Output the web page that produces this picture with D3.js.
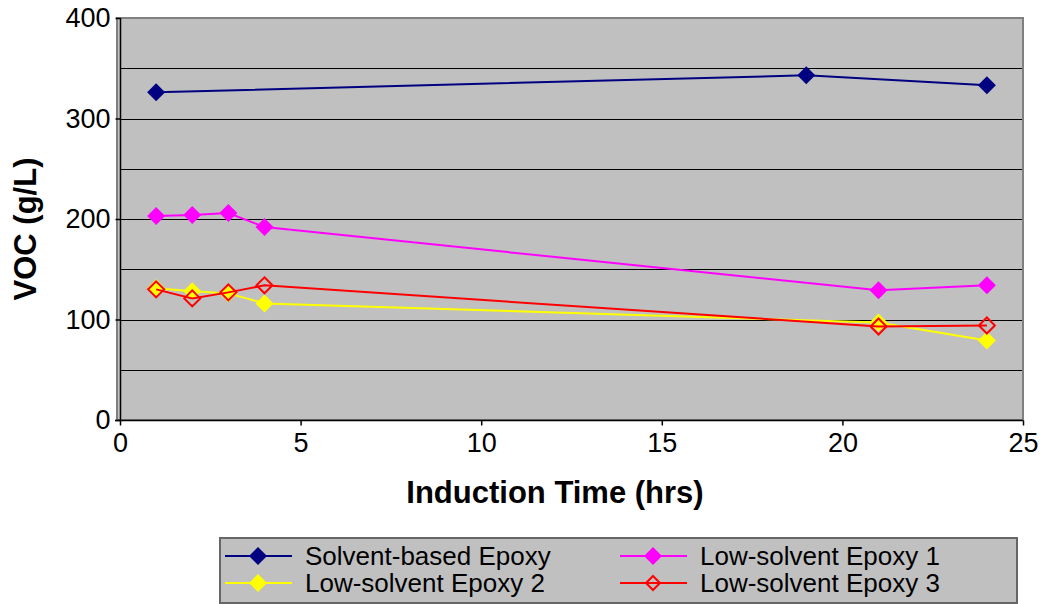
<!DOCTYPE html>
<html><head><meta charset="utf-8">
<script src="https://cdn.jsdelivr.net/npm/d3@7"></script>
<style>body{margin:0;background:#fff}svg{display:block}text{font-family:"Liberation Sans",Arial,sans-serif}</style>
</head><body><svg id="c" width="1043" height="604"></svg>
<script>
const seriesNames = ["Solvent-based Epoxy","Low-solvent Epoxy 1","Low-solvent Epoxy 2","Low-solvent Epoxy 3"];
const seriesColors = ["#000080","#ff00ff","#ffff00","#ff0000"];
const seriesHollow = [false,false,false,true];
const solventX = [1,19,24];
const solventY = [326,343,333];
const ls1X = [1,2,3,4,21,24];
const ls1Y = [203,204,206,192,129,134];
const ls2X = [1,2,3,4,21,24];
const ls2Y = [131,128,126,116,97,79];
const ls3X = [1,2,3,4,21,24];
const ls3Y = [130,121,127,134,93,94];
const xTicks = [0,5,10,15,20,25];
const yTicks = [0,100,200,300,400];
const yGrid = [50,100,150,200,250,300,350];

const seriesX = [solventX, ls1X, ls2X, ls3X];
const seriesY = [solventY, ls1Y, ls2Y, ls3Y];

const svg = d3.select("#c");
const L=120, R=1023, T=18, B=420;
const x = d3.scaleLinear().domain([0,25]).range([L,R]);
const y = d3.scaleLinear().domain([0,400]).range([B,T]);

svg.append("rect").attr("x",117).attr("y",T).attr("width",R-117).attr("height",B-T)
  .attr("fill","#c0c0c0").attr("stroke","#808080").attr("stroke-width",2);
svg.append("g").selectAll("line").data(yGrid).join("line")
  .attr("x1",L).attr("x2",R-1).attr("y1",d=>Math.round(y(d))+0.5).attr("y2",d=>Math.round(y(d))+0.5)
  .attr("stroke","#000").attr("stroke-width",1);

const yAxis = d3.axisLeft(y).tickValues(yTicks).tickSize(5).tickPadding(5);
const gy = svg.append("g").attr("transform",`translate(${L+0.5},0)`).call(yAxis);
const xAxis = d3.axisBottom(x).tickValues(xTicks).tickSize(5).tickPadding(7);
const gx = svg.append("g").attr("transform",`translate(0,${B+0.5})`).call(xAxis);
[gx,gy].forEach(g=>{
  g.attr("font-size",null).attr("font-family",null);
  g.select(".domain").attr("stroke","#000").attr("stroke-width",1.5);
  g.selectAll(".tick line").attr("stroke","#000").attr("stroke-width",1.5);
  g.selectAll("text").attr("fill","#000").style("font-size","27px");
});
gx.select(".domain").attr("d",`M${L-5},0H${R}`);
gy.select(".domain").attr("d",`M0,${T}V${B}`);

svg.append("text").attr("transform","translate(36,229) rotate(-90)").attr("text-anchor","middle")
  .style("font-size","31px").style("font-weight","bold").text("VOC (g/L)");
svg.append("text").attr("x",555).attr("y",503).attr("text-anchor","middle")
  .style("font-size","31px").style("font-weight","bold").text("Induction Time (hrs)");

function diamond(r){return `M0,${-r}L${r},0L0,${r}L${-r},0Z`;}

seriesNames.forEach((name,i)=>{
  const pts = seriesX[i].map((v,j)=>[v,seriesY[i][j]]);
  const g = svg.append("g");
  g.append("path").datum(pts)
    .attr("d",d3.line().x(d=>x(d[0])).y(d=>y(d[1])))
    .attr("fill","none").attr("stroke",seriesColors[i]).attr("stroke-width",2);
  g.selectAll("path.m").data(pts).join("path").attr("class","m")
    .attr("transform",d=>`translate(${x(d[0])},${y(d[1])})`)
    .attr("d",seriesHollow[i]?diamond(8):diamond(9))
    .attr("fill",seriesHollow[i]?"none":seriesColors[i])
    .attr("stroke",seriesColors[i]).attr("stroke-width",seriesHollow[i]?2:0);
});

svg.append("rect").attr("x",220).attr("y",538).attr("width",797).attr("height",65)
  .attr("fill","#c0c0c0").attr("stroke","#666").attr("stroke-width",2);
const legPos = [[225,556],[620,556],[225,583],[620,583]];
seriesNames.forEach((name,i)=>{
  const [lx,ly]=legPos[i];
  const g = svg.append("g").attr("transform",`translate(${lx},${ly})`);
  g.append("line").attr("x1",0).attr("x2",67).attr("y1",0).attr("y2",0)
    .attr("stroke",seriesColors[i]).attr("stroke-width",2);
  g.append("path").attr("transform","translate(33,0)").attr("d",diamond(seriesHollow[i]?7:9))
    .attr("fill",seriesHollow[i]?"none":seriesColors[i]).attr("stroke",seriesColors[i]).attr("stroke-width",seriesHollow[i]?2:0);
  g.append("text").attr("x",80).attr("y",9).style("font-size","26px").attr("fill","#000").text(name);
});
</script></body></html>
